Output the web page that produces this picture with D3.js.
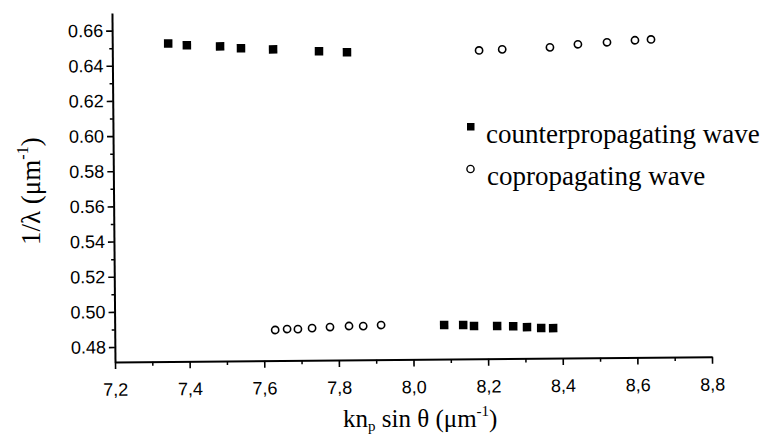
<!DOCTYPE html>
<html>
<head>
<meta charset="utf-8">
<script src="https://cdn.jsdelivr.net/npm/d3@7"></script>
<style>
  html, body { margin: 0; padding: 0; background: #fff; }
  svg { display: block; }
</style>
</head>
<body>
<svg id="chart" width="768" height="436"></svg>
<script>
// ---- data ----
const counterX = [7.350, 7.400, 7.489, 7.545, 7.631, 7.754, 7.829,
                  8.083, 8.134, 8.163, 8.225, 8.268, 8.305, 8.343, 8.375];
const counterY = [0.6524, 0.6513, 0.6505, 0.6493, 0.6485, 0.6472, 0.6465,
                  0.4909, 0.4908, 0.4902, 0.4901, 0.4899, 0.4893, 0.4887, 0.4886];
const coX = [7.630, 7.662, 7.691, 7.729, 7.777, 7.828, 7.866, 7.914,
             8.183, 8.245, 8.373, 8.448, 8.526, 8.601, 8.644];
const coY = [0.4889, 0.4894, 0.4893, 0.4898, 0.4903, 0.4908, 0.4907, 0.4912,
             0.6469, 0.6474, 0.6483, 0.6499, 0.6509, 0.6519, 0.6523];
const xTicks = [7.2, 7.4, 7.6, 7.8, 8.0, 8.2, 8.4, 8.6, 8.8];
const xTickLabels = ["7,2", "7,4", "7,6", "7,8", "8,0", "8,2", "8,4", "8,6", "8,8"];
const xMinorTicks = [7.3, 7.5, 7.7, 7.9, 8.1, 8.3, 8.5, 8.7];
const yTicks = [0.48, 0.50, 0.52, 0.54, 0.56, 0.58, 0.60, 0.62, 0.64, 0.66];
const yTickLabels = ["0.48", "0.50", "0.52", "0.54", "0.56", "0.58", "0.60", "0.62", "0.64", "0.66"];
const yMinorTicks = [0.49, 0.51, 0.53, 0.55, 0.57, 0.59, 0.61, 0.63, 0.65];
const legendLabels = ["counterpropagating wave", "copropagating wave"];

const SERIF = '"Liberation Serif"';
const SANS = '"Liberation Sans"';

// ---- layout ----
const svg = d3.select("#chart");
const W = 597, H = 349;
const x = d3.scaleLinear().domain([7.2, 8.8]).range([0, W]);
const y = d3.scaleLinear().domain([0.4715, 0.67]).range([H, 0]);

const g = svg.append("g")
  .attr("transform", "translate(115,362) rotate(-0.5) translate(0," + (-H) + ")");

// x axis major
const xAxis = g.append("g").attr("transform", `translate(0,${H})`)
  .call(d3.axisBottom(x).tickValues(xTicks)
    .tickFormat((d, i) => xTickLabels[i]).tickSize(7).tickPadding(14).tickSizeOuter(0));
xAxis.select(".domain").attr("stroke-width", 2);
xAxis.selectAll(".tick line").attr("stroke-width", 1.6);
xAxis.selectAll(".tick text").attr("font-size", 18).attr("fill", "#000").style("font-family", SANS);
g.append("g").attr("transform", `translate(0,${H})`)
  .call(d3.axisBottom(x).tickValues(xMinorTicks).tickFormat("").tickSize(4).tickSizeOuter(0))
  .call(s => s.select(".domain").remove())
  .selectAll(".tick line").attr("stroke-width", 1.5);

// y axis major
const yAxis = g.append("g")
  .call(d3.axisLeft(y).tickValues(yTicks)
    .tickFormat((d, i) => yTickLabels[i]).tickSize(6).tickPadding(3).tickSizeOuter(0));
yAxis.select(".domain").attr("stroke-width", 2);
yAxis.selectAll(".tick line").attr("stroke-width", 1.6);
yAxis.selectAll(".tick text").attr("font-size", 18).attr("fill", "#000").style("font-family", SANS);
g.append("g")
  .call(d3.axisLeft(y).tickValues(yMinorTicks).tickFormat("").tickSize(3).tickSizeOuter(0))
  .call(s => s.select(".domain").remove())
  .selectAll(".tick line").attr("stroke-width", 1.5);

// data: counterpropagating (filled squares)
const sq = 8.5;
g.append("g").selectAll("rect")
  .data(counterX.map((v, i) => [v, counterY[i]]))
  .join("rect")
  .attr("x", d => x(d[0]) - sq / 2)
  .attr("y", d => y(d[1]) - sq / 2)
  .attr("width", sq).attr("height", sq)
  .attr("fill", "#000");

// data: copropagating (open circles)
g.append("g").selectAll("circle")
  .data(coX.map((v, i) => [v, coY[i]]))
  .join("circle")
  .attr("cx", d => x(d[0]))
  .attr("cy", d => y(d[1]))
  .attr("r", 3.6)
  .attr("fill", "none")
  .attr("stroke", "#000")
  .attr("stroke-width", 1.6);

// ---- axis titles ----
const xt = svg.append("text")
  .attr("x", 343).attr("y", 427)
  .attr("font-size", 25).attr("fill", "#000").style("font-family", SERIF);
xt.append("tspan").text("kn");
xt.append("tspan").attr("font-size", 15).attr("dy", 4).text("p");
xt.append("tspan").attr("dy", -4).text(" sin θ (μm");
xt.append("tspan").attr("font-size", 15).attr("dy", -11).attr("dx", 0).text("-1");
xt.append("tspan").attr("dy", 11).text(")");

const yt = svg.append("text")
  .attr("transform", "translate(40,245) rotate(-90)")
  .attr("font-size", 27).attr("fill", "#000").style("font-family", SERIF);
yt.append("tspan").text("1/λ (μm");
yt.append("tspan").attr("font-size", 16).attr("dy", -12).attr("dx", 0).text("-1");
yt.append("tspan").attr("dy", 12).text(")");

// ---- legend ----
const leg = svg.append("g");
leg.append("rect").attr("x", 467).attr("y", 123).attr("width", 7.5).attr("height", 7.5).attr("fill", "#000");
leg.append("text").attr("x", 486).attr("y", 143)
  .attr("font-size", 27).attr("fill", "#000").style("font-family", SERIF).text(legendLabels[0]);
leg.append("circle").attr("cx", 470.5).attr("cy", 169).attr("r", 3.6)
  .attr("fill", "none").attr("stroke", "#000").attr("stroke-width", 1.4);
leg.append("text").attr("x", 487).attr("y", 185)
  .attr("font-size", 27).attr("fill", "#000").style("font-family", SERIF).text(legendLabels[1]);
</script>
</body>
</html>
